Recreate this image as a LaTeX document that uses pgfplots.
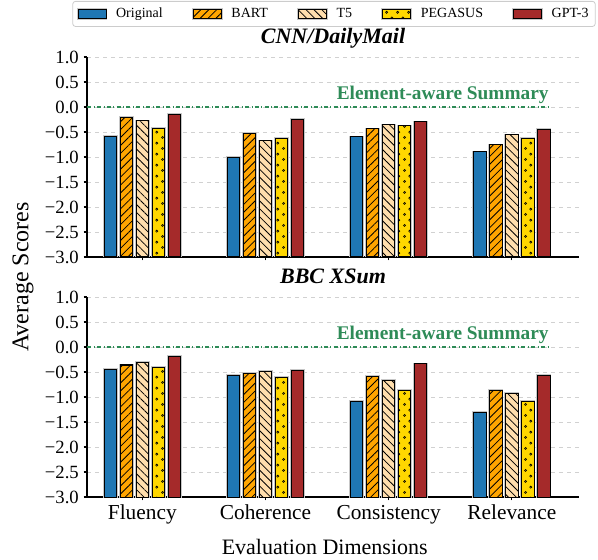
\documentclass[border=0pt]{standalone}
\usepackage{fontspec}
\setmainfont{Liberation Serif}
\usepackage{pgfplots}
\usepackage{pgfplotstable}
\pgfplotsset{compat=1.18}
\usetikzlibrary{patterns,patterns.meta}

\definecolor{origc}{HTML}{1F77B4}
\definecolor{bartc}{HTML}{FFA500}
\definecolor{t5c}{HTML}{FFDEAD}
\definecolor{pegc}{HTML}{FFD700}
\definecolor{gptc}{HTML}{A52A2A}
\definecolor{seagreen}{HTML}{2E8B57}

\tikzdeclarepattern{
  name=opendots,
  type=uncolored,
  bounding box={(0pt,0pt) and (8pt,8pt)},
  tile size={(8pt,8pt)},
  code={
    \draw[line width=0.5pt] (2pt,2pt) circle (0.8pt);
    \draw[line width=0.5pt] (6pt,6pt) circle (0.8pt);
  }
}

% scores
\pgfplotstableread{
x orig bart t5 peg gpt
0 -0.59 -0.21 -0.28 -0.43 -0.15
1 -1.01 -0.53 -0.68 -0.63 -0.25
2 -0.60 -0.44 -0.36 -0.38 -0.30
3 -0.90 -0.76 -0.56 -0.63 -0.45
}\cnndata
\pgfplotstableread{
x orig bart t5 peg gpt
0 -0.45 -0.36 -0.31 -0.40 -0.19
1 -0.57 -0.52 -0.49 -0.60 -0.47
2 -1.08 -0.59 -0.67 -0.86 -0.34
3 -1.31 -0.87 -0.93 -1.09 -0.57
}\xsumdata

\pgfplotsset{
  panel/.style={
    scale only axis, width=369pt, height=150pt,
    xmin=-0.449, xmax=3.545, ymin=0, ymax=4,
    axis x line*=bottom, axis y line*=left,
    axis line style={-, line width=0.8pt},
    xtick={0,1,2,3}, xticklabels={Fluency,Coherence,Consistency,Relevance},
    ytick={0,0.5,1,1.5,2,2.5,3,3.5,4},
    yticklabels={−3.0,−2.5,−2.0,−1.5,−1.0,−0.5,0.0,0.5,1.0},
    tick align=outside, major tick length=2.6pt,
    tick style={black, line width=0.8pt},
    ymajorgrids, grid style={dashed, black!18, line width=0.5pt},
    xticklabel style={font=\fontsize{16}{18}\selectfont},
    yticklabel style={font=\fontsize{14}{16}\selectfont},
    title style={font=\fontsize{16.5}{18}\selectfont\bfseries\itshape,
      at={(0.5,1)}, anchor=base, yshift=3.8pt},
  },
  sbar/.style={ybar, bar width=0.1, line width=0.75pt, draw=black,
    preaction={draw=black!22, line width=2pt},
    y filter/.expression={y+3},
    legend image code/.code={\draw[##1, sharp corners] (0pt,-3.6pt) rectangle (21pt,3.6pt);}},
  pOrig/.style={sbar, bar shift=-0.26, fill=origc},
  pBart/.style={sbar, bar shift=-0.13, fill=bartc,
    postaction={pattern={Lines[angle=45,distance=4.2pt,line width=0.6pt]}}},
  pT5/.style={sbar, bar shift=0, fill=t5c,
    postaction={pattern={Lines[angle=-45,distance=4.2pt,line width=0.6pt]}}},
  pPeg/.style={sbar, bar shift=0.13, fill=pegc, postaction={pattern=opendots}},
  pGpt/.style={sbar, bar shift=0.26, fill=gptc},
  refline/.style={sharp plot, forget plot, color=seagreen, dash dot,
    line width=0.9pt, y filter/.expression={y+3}},
}

\begin{document}
\begin{tikzpicture}
\begin{axis}[panel, at={(0pt,0pt)}, anchor=south west,
  title={CNN/DailyMail},
  xticklabels={},
  legend columns=5,
  legend cell align=left,
  legend style={at={(0.502,1.28)}, anchor=north,
    font=\fontsize{10.5}{12}\selectfont,
    draw=black!20, rounded corners=2pt, line width=0.6pt,
    inner xsep=3pt, inner ysep=3pt,
    /tikz/every odd column/.append style={column sep=4.5pt},
    /tikz/every even column/.append style={column sep=20pt}},
]
\addplot[refline] coordinates {(-0.449,0) (3.3,0)};
\addplot[pOrig] table[x=x,y=orig] {\cnndata};
\addlegendentry{Original}
\addplot[pBart] table[x=x,y=bart] {\cnndata};
\addlegendentry{BART}
\addplot[pT5] table[x=x,y=t5] {\cnndata};
\addlegendentry{T5}
\addplot[pPeg] table[x=x,y=peg] {\cnndata};
\addlegendentry{PEGASUS}
\addplot[pGpt] table[x=x,y=gpt] {\cnndata};
\addlegendentry{GPT-3}
\node[anchor=base east, inner sep=0pt, font=\fontsize{14.5}{16}\selectfont\bfseries,
  text=seagreen] at (axis cs:3.3,3.14) {Element-aware Summary};
\end{axis}

\begin{axis}[panel, at={(0pt,-180pt)}, anchor=south west,
  title={BBC XSum},
]
\addplot[refline] coordinates {(-0.449,0) (3.3,0)};
\addplot[pOrig] table[x=x,y=orig] {\xsumdata};
\addplot[pBart] table[x=x,y=bart] {\xsumdata};
\addplot[pT5] table[x=x,y=t5] {\xsumdata};
\addplot[pPeg] table[x=x,y=peg] {\xsumdata};
\addplot[pGpt] table[x=x,y=gpt] {\xsumdata};
\node[anchor=base east, inner sep=0pt, font=\fontsize{14.5}{16}\selectfont\bfseries,
  text=seagreen] at (axis cs:3.3,3.14) {Element-aware Summary};
\end{axis}

\node[rotate=90, font=\fontsize{18}{20}\selectfont] at (-48pt,-15pt) {Average Scores};
\node[anchor=base, font=\fontsize{16.5}{18}\selectfont] at (178.3pt,-222.75pt) {Evaluation Dimensions};

\pgfresetboundingbox
\path (-65.25pt,-226.5pt) rectangle (383.25pt,192.75pt);
\end{tikzpicture}
\end{document}
